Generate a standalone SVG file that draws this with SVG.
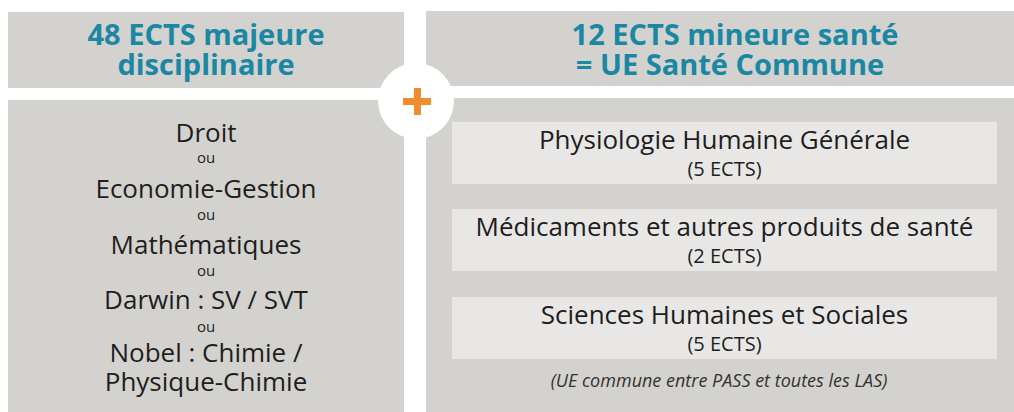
<svg xmlns="http://www.w3.org/2000/svg" width="1014" height="412" viewBox="0 0 1014 412">
<style>
.panel{fill:#d4d2ce}
.inner{fill:#e8e7e5}
.title{font-family:"Open Sans",sans-serif;font-weight:bold;font-size:29px;fill:#1a87a3;text-anchor:middle}
.big{font-family:"Open Sans",sans-serif;font-size:26px;fill:#1e1e1e;text-anchor:middle}
.ou{font-family:"Open Sans",sans-serif;font-size:15px;fill:#1e1e1e;text-anchor:middle}
.ects{font-family:"Open Sans",sans-serif;font-size:20px;fill:#1e1e1e;text-anchor:middle}
.note{font-family:"Open Sans",sans-serif;font-size:18px;font-style:italic;fill:#333;text-anchor:middle}
</style>
<rect width="1014" height="412" fill="#ffffff"/>
<g id="left-header">
<rect class="panel" x="8" y="12" width="396" height="76"/>
<text class="title" x="206" y="45">48 ECTS majeure</text>
<text class="title" x="206" y="75">disciplinaire</text>
</g>
<g id="left-body">
<rect class="panel" x="8" y="100" width="396" height="312"/>
<text class="big" x="206" y="142">Droit</text>
<text class="ou" x="206" y="163">ou</text>
<text class="big" x="206" y="198">Economie-Gestion</text>
<text class="ou" x="206" y="220">ou</text>
<text class="big" x="206" y="254">Mathématiques</text>
<text class="ou" x="206" y="276">ou</text>
<text class="big" x="206" y="309">Darwin : SV / SVT</text>
<text class="ou" x="206" y="332">ou</text>
<text class="big" x="206" y="362">Nobel : Chimie /</text>
<text class="big" x="206" y="391">Physique-Chimie</text>
</g>
<g id="right-header">
<rect class="panel" x="426" y="11" width="588" height="75"/>
<text class="title" x="735" y="45">12 ECTS mineure santé</text>
<text class="title" x="730" y="75">= UE Santé Commune</text>
</g>
<g id="right-body">
<rect class="panel" x="426" y="98" width="588" height="314"/>
</g>
<g id="ue1">
<rect class="inner" x="452" y="122" width="545" height="62"/>
<text class="big" x="724.5" y="149">Physiologie Humaine Générale</text>
<text class="ects" x="724.5" y="176">(5 ECTS)</text>
</g>
<g id="ue2">
<rect class="inner" x="452" y="209" width="545" height="62"/>
<text class="big" x="724.5" y="236">Médicaments et autres produits de santé</text>
<text class="ects" x="724.5" y="263">(2 ECTS)</text>
</g>
<g id="ue3">
<rect class="inner" x="452" y="297" width="545" height="62"/>
<text class="big" x="724.5" y="324">Sciences Humaines et Sociales</text>
<text class="ects" x="724.5" y="351">(5 ECTS)</text>
</g>
<text class="note" x="719" y="387">(UE commune entre PASS et toutes les LAS)</text>
<g id="plus">
<circle cx="416" cy="101" r="38" fill="#ffffff"/>
<rect x="403" y="98" width="28" height="7" fill="#f28a2e"/>
<rect x="414" y="88" width="7" height="27" fill="#f28a2e"/>
</g>
</svg>
